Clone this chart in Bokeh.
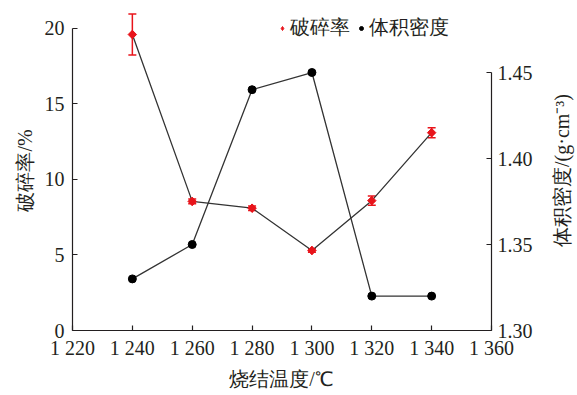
import math
from bokeh.plotting import figure
from bokeh.layouts import row
from bokeh.models import Range1d, LinearAxis, ColumnDataSource, Whisker, TeeHead, Legend, LegendItem, FixedTicker, CustomJSTickFormatter
from bokeh.embed import file_html
from bokeh.resources import INLINE

temps = [1240, 1260, 1280, 1300, 1320, 1340]
crush = [19.6, 8.55, 8.1, 5.3, 8.6, 13.1]
crush_err = [1.35, 0.15, 0.15, 0.12, 0.3, 0.33]
density = [1.330, 1.350, 1.440, 1.450, 1.320, 1.320]
x_ticks = [1220, 1240, 1260, 1280, 1300, 1320, 1340, 1360]
left_ticks = [0, 5, 10, 15, 20]
right_ticks = [1.30, 1.35, 1.40, 1.45]
right_label = "体积密度/(g·cm⁻³)"

FONT = "Liberation Serif"
INK = "#231f20"
RED = "#e8141b"
TOP, BOTTOM = 10, 65

p = figure(width=547, height=395, output_backend="svg", toolbar_location=None,
           x_range=Range1d(1220, 1360), y_range=Range1d(0, 21.19),
           min_border_left=72, min_border_right=56, min_border_top=TOP, min_border_bottom=BOTTOM)
p.extra_y_ranges = {"dens": Range1d(1.30, 1.48605)}
p.outline_line_color = None
p.grid.visible = False
p.background_fill_color = "white"

lo = [c - e for c, e in zip(crush, crush_err)]
hi = [c + e for c, e in zip(crush, crush_err)]
src = ColumnDataSource(dict(x=temps, y=crush, lo=lo, hi=hi, d=density))

p.line("x", "y", source=src, line_color="#333333", line_width=1.3)
p.line("x", "d", source=src, line_color="#333333", line_width=1.3, y_range_name="dens")
w = Whisker(source=src, base="x", lower="lo", upper="hi", line_color=RED, line_width=1.5,
            upper_head=TeeHead(size=8, line_color=RED, line_width=1.5),
            lower_head=TeeHead(size=8, line_color=RED, line_width=1.5))
p.add_layout(w)
# diamond marker (used for legend), covered by rotated square for a regular diamond shape
r1 = p.scatter("x", "y", source=src, marker="diamond", size=8, fill_color=RED, line_color=RED)
p.scatter("x", "y", source=src, marker="square", angle=math.pi / 4, size=6,
          fill_color=RED, line_color=RED)
r2 = p.scatter("x", "d", source=src, marker="circle", size=8, fill_color="black",
               line_color="black", y_range_name="dens")

def style(ax):
    ax.axis_line_color = INK
    ax.axis_line_width = 1.2
    ax.major_tick_line_color = INK
    ax.major_tick_line_width = 1.2
    ax.major_tick_in = 5
    ax.major_tick_out = 0
    ax.minor_tick_line_color = None
    ax.major_label_text_font = FONT
    ax.major_label_text_font_size = "20px"
    ax.major_label_text_color = INK
    ax.axis_label_text_font = FONT
    ax.axis_label_text_font_size = "20px"
    ax.axis_label_text_font_style = "normal"
    ax.axis_label_text_color = INK

xa = p.xaxis[0]
xa.ticker = FixedTicker(ticks=x_ticks)
xa.formatter = CustomJSTickFormatter(code="var s = String(tick); return s.length > 3 ? s[0] + ' ' + s.slice(1) : s;")
xa.axis_label = "烧结温度/℃"
style(xa)
xa.major_label_standoff = 6
xa.axis_label_standoff = 6

ya = p.yaxis[0]
ya.ticker = FixedTicker(ticks=left_ticks)
ya.bounds = (0, 20)
ya.axis_label = "破碎率/%"
style(ya)
ya.major_label_standoff = 8
ya.axis_label_standoff = 6

ra = LinearAxis(y_range_name="dens", ticker=FixedTicker(ticks=right_ticks))
ra.formatter = CustomJSTickFormatter(code="return tick.toFixed(2);")
ra.bounds = (1.30, 1.45)
style(ra)
ra.major_label_standoff = 6
p.add_layout(ra, "right")

leg = Legend(items=[LegendItem(label="破碎率", renderers=[r1]), LegendItem(label="体积密度", renderers=[r2])],
             orientation="horizontal", location=(205, 289), border_line_color=None,
             background_fill_alpha=0, label_text_font=FONT, label_text_font_size="20px",
             label_text_color=INK, glyph_width=10, glyph_height=20, spacing=6, padding=0,
             label_standoff=3, margin=0)
p.add_layout(leg, "center")

# narrow strip to the right that carries the right-hand axis title, read bottom-to-top
p2 = figure(width=30, height=395, output_backend="svg", toolbar_location=None,
            x_range=Range1d(0, 1), y_range=Range1d(0, 1),
            min_border_left=22, min_border_right=0, min_border_top=TOP, min_border_bottom=BOTTOM)
p2.outline_line_color = None
p2.grid.visible = False
p2.xaxis.visible = False
a2 = p2.yaxis[0]
a2.ticker = FixedTicker(ticks=[])
a2.axis_line_color = None
a2.major_tick_line_color = None
a2.minor_tick_line_color = None
a2.major_label_text_font_size = "1px"
a2.major_label_standoff = 0
a2.axis_label = right_label
a2.axis_label_text_font = FONT
a2.axis_label_text_font_size = "20px"
a2.axis_label_text_font_style = "normal"
a2.axis_label_text_color = INK
a2.axis_label_standoff = 1

layout = row(p, p2, spacing=0)
open("out.html", "w").write(file_html(layout, INLINE))
